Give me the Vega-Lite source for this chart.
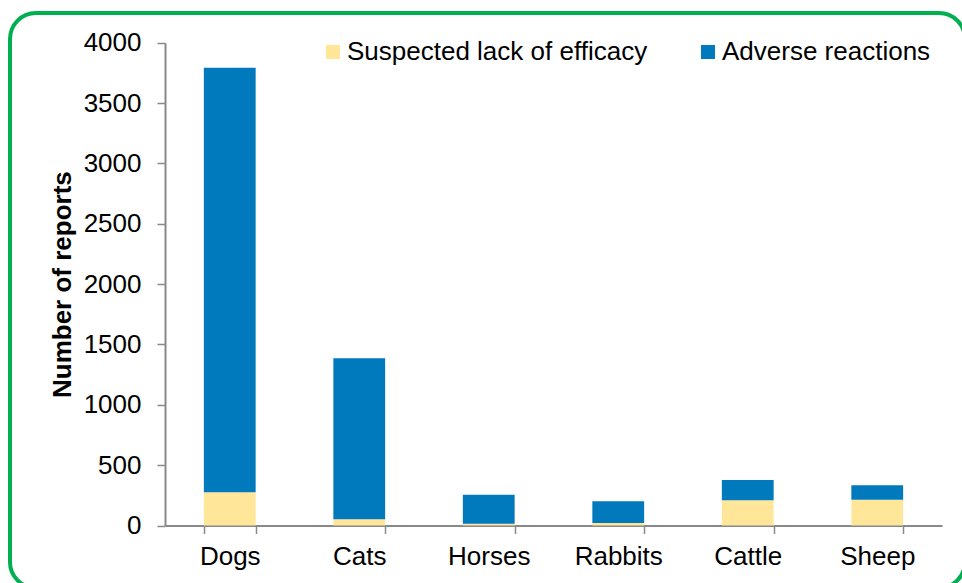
{
  "$schema": "https://vega.github.io/schema/vega-lite/v6.json",
  "autosize": {"type": "none"},
  "padding": {"left": 10, "top": 13, "right": 0, "bottom": 0},
  "width": 955,
  "height": 575,
  "background": "white",
  "config": {
    "view": {"stroke": "#00B050", "strokeWidth": 4, "cornerRadius": 26},
    "font": "Liberation Sans",
    "axis": {"labelFont": "Liberation Sans", "titleFont": "Liberation Sans"},
    "legend": {"labelFont": "Liberation Sans"}
  },
  "data": {
    "values": [
      {"species": "Dogs", "type": "Suspected lack of efficacy", "reports": 275},
      {"species": "Dogs", "type": "Adverse reactions", "reports": 3518},
      {"species": "Cats", "type": "Suspected lack of efficacy", "reports": 51},
      {"species": "Cats", "type": "Adverse reactions", "reports": 1334},
      {"species": "Horses", "type": "Suspected lack of efficacy", "reports": 15},
      {"species": "Horses", "type": "Adverse reactions", "reports": 240},
      {"species": "Rabbits", "type": "Suspected lack of efficacy", "reports": 21},
      {"species": "Rabbits", "type": "Adverse reactions", "reports": 179},
      {"species": "Cattle", "type": "Suspected lack of efficacy", "reports": 209},
      {"species": "Cattle", "type": "Adverse reactions", "reports": 168},
      {"species": "Sheep", "type": "Suspected lack of efficacy", "reports": 214},
      {"species": "Sheep", "type": "Adverse reactions", "reports": 119}
    ]
  },
  "mark": {"type": "bar"},
  "encoding": {
    "x": {
      "field": "species",
      "type": "nominal",
      "sort": ["Dogs", "Cats", "Horses", "Rabbits", "Cattle", "Sheep"],
      "scale": {"range": [155, 932], "paddingInner": 0.6, "paddingOuter": 0.3},
      "axis": {
        "title": null,
        "orient": "bottom",
        "offset": -62.5,
        "labelAngle": 0,
        "labelFontSize": 26,
        "labelColor": "#000000",
        "labelPadding": 10,
        "tickBand": "extent",
        "tickSize": 8,
        "tickColor": "#898989",
        "tickWidth": 1.5,
        "domainColor": "#898989",
        "domainWidth": 2
      }
    },
    "y": {
      "field": "reports",
      "type": "quantitative",
      "stack": "zero",
      "scale": {"domain": [0, 4000], "range": [512.5, 29.7], "nice": false},
      "axis": {
        "title": "Number of reports",
        "orient": "left",
        "offset": -155,
        "values": [0, 500, 1000, 1500, 2000, 2500, 3000, 3500, 4000],
        "format": "d",
        "grid": false,
        "labelFontSize": 26,
        "labelColor": "#000000",
        "labelPadding": 16,
        "tickSize": 8,
        "tickColor": "#898989",
        "tickWidth": 1.5,
        "domainColor": "#898989",
        "domainWidth": 2,
        "titleFontSize": 26,
        "titleFontWeight": "bold",
        "titleColor": "#000000",
        "titlePadding": 8
      }
    },
    "color": {
      "field": "type",
      "type": "nominal",
      "sort": ["Suspected lack of efficacy", "Adverse reactions"],
      "scale": {
        "domain": ["Suspected lack of efficacy", "Adverse reactions"],
        "range": ["#FFE699", "#0079BD"]
      },
      "legend": {
        "title": null,
        "orient": "none",
        "direction": "horizontal",
        "legendX": 310,
        "legendY": 26,
        "symbolType": "square",
        "symbolSize": 196,
        "symbolStrokeWidth": 0,
        "labelFontSize": 26,
        "labelColor": "#000000",
        "labelOffset": 1,
        "labelLimit": 400,
        "columnPadding": 47
      }
    }
  }
}
